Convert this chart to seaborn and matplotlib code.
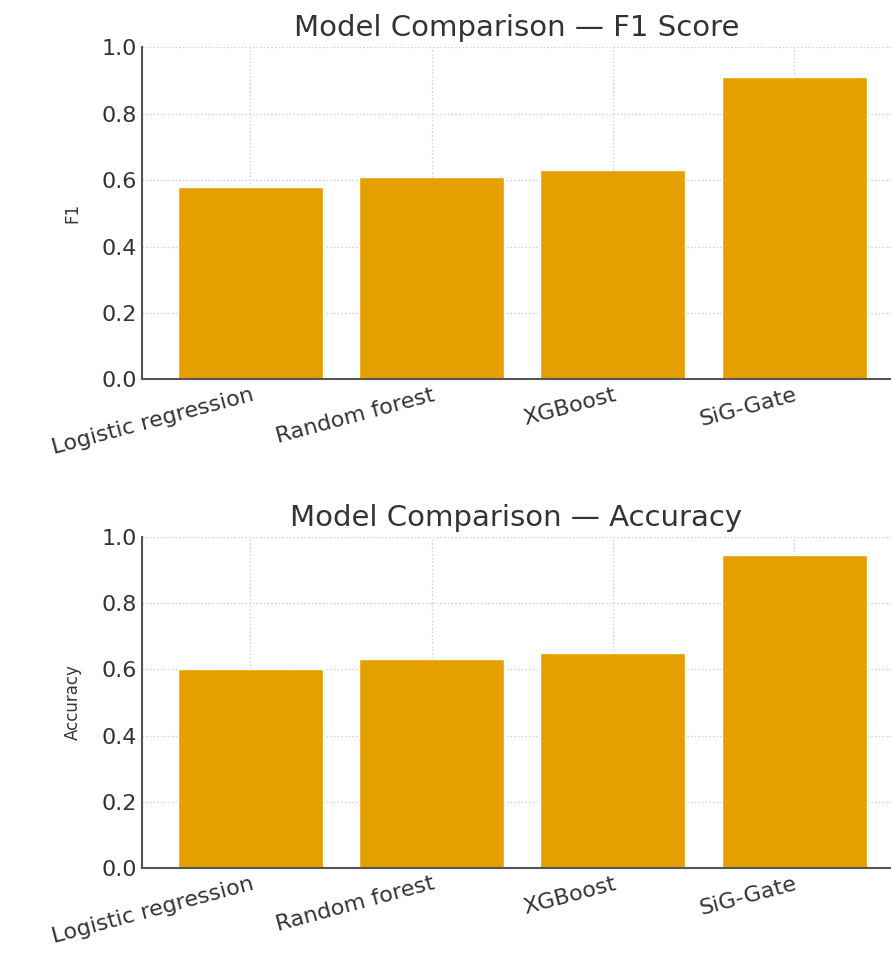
import matplotlib
matplotlib.use("Agg")
import matplotlib.pyplot as plt
import seaborn as sns
import pandas as pd

models = ["Logistic regression", "Random forest", "XGBoost", "SiG-Gate"]
f1_scores = [0.58, 0.61, 0.63, 0.91]
accuracy = [0.60, 0.63, 0.65, 0.945]
yticks = [0.0, 0.2, 0.4, 0.6, 0.8, 1.0]

sns.set_style("white")
plt.rcParams['font.family'] = ['DejaVu Sans']

fig = plt.figure(figsize=(8.91, 9.58), dpi=100)
ax1 = fig.add_axes([0.159, 0.604, 0.841, 0.3466])
ax2 = fig.add_axes([0.159, 0.094, 0.841, 0.3455])

color = "#E69F00"
panels = [(ax1, f1_scores, "F1", "Model Comparison \u2014 F1 Score"),
          (ax2, accuracy, "Accuracy", "Model Comparison \u2014 Accuracy")]
for ax, vals, ylab, title in panels:
    df = pd.DataFrame({"model": models, "value": vals})
    sns.barplot(data=df, x="model", y="value", color=color, saturation=1,
                width=0.8, ax=ax, zorder=2)
    ax.set_ylim(0, 1.0)
    ax.set_xlim(-0.6, 3.534)
    ax.set_yticks(yticks)
    ax.set_yticklabels([f"{t:.1f}" for t in yticks], fontsize=16, color="#333333")
    ax.set_xticks(range(len(models)))
    ax.set_xticklabels(models, rotation=15, ha="right", rotation_mode="anchor",
                       fontsize=16, color="#333333")
    ax.set_xlabel("")
    ax.set_ylabel(ylab, fontsize=12, color="#333333", labelpad=14)
    ax.set_title(title, fontsize=21, color="#333333", pad=8)
    ax.grid(True, linestyle=":", color="#cccccc", linewidth=1, zorder=0)
    ax.set_axisbelow(True)
    for s in ["top", "right"]:
        ax.spines[s].set_visible(False)
    for s in ["left", "bottom"]:
        ax.spines[s].set_color("#555555")
        ax.spines[s].set_linewidth(1.5)
    ax.tick_params(axis="both", direction="in", length=4, width=1, colors="#555555",
                   labelcolor="#333333")
    ax.tick_params(axis="x", pad=4)

fig.savefig("out.png", dpi=100)
